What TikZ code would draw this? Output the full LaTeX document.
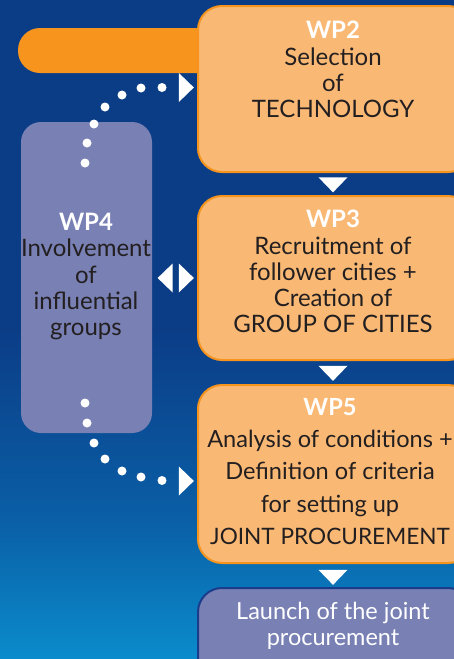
\documentclass[tikz,border=0pt]{standalone}
\usepackage{fontspec}
\setmainfont{Lato}
\usetikzlibrary{shapes.geometric,calc}
\definecolor{bgdark}{HTML}{0B3D87}
\definecolor{bgmid}{HTML}{0A5FA6}
\definecolor{bglight}{HTML}{0A8CCC}
\definecolor{orbar}{HTML}{F7941D}
\definecolor{orfill}{HTML}{F9B975}
\definecolor{purp}{HTML}{7880B4}
\definecolor{txt}{HTML}{231F20}
\definecolor{launchborder}{HTML}{1B3C8A}
\begin{document}
\begin{tikzpicture}[x=1pt,y=-1pt,
  wpbox/.style={draw=orbar, line width=2pt, fill=orfill, rounded corners=24pt, inner sep=0pt},
  wptext/.style={anchor=north, align=center, inner sep=0pt, text=txt, font=\fontsize{24}{26.3}\selectfont},
  tri/.style={isosceles triangle, isosceles triangle stretches=true, fill=white, inner sep=0pt, minimum height=15pt, minimum width=29pt},
  downtri/.style={tri, shape border rotate=270},
  righttri/.style={tri, shape border rotate=0},
  lefttri/.style={tri, shape border rotate=180},
  dot/.style={circle, fill=white, inner sep=0pt, minimum size=9pt},
  head/.style={text=white, font=\bfseries}
]
\useasboundingbox (0,0) rectangle (454,659);
\begin{scope}
\clip (0,0) rectangle (454,659);
% background
\fill[bgdark] (0,0) rectangle (454,660);
\shade[top color=bgdark, bottom color=bgmid] (0,330) rectangle (454,520);
\shade[top color=bgmid, bottom color=bglight] (0,519.5) rectangle (454,660);
% orange bar
\fill[orbar, rounded corners=22pt] (18,28) rectangle (240,73);
% boxes
\node[wpbox, minimum width=274pt, minimum height=166pt] (wp2) at (335,89) {};
\node[wpbox, minimum width=274pt, minimum height=164pt] (wp3) at (335,278) {};
\node[wpbox, minimum width=274pt, minimum height=178pt] (wp5) at (335,474) {};
\node[draw=launchborder, line width=2pt, fill=purp, rounded corners=24pt, minimum width=274pt, minimum height=110pt, inner sep=0pt] (launch) at (335,643) {};
\node[fill=purp, rounded corners=20pt, minimum width=131pt, minimum height=311pt, inner sep=0pt] (wp4) at (86.5,277.5) {};
% texts
\node[wptext] (wp2t) at (333,21) {{\color{white}\bfseries WP2}\\Selection\\of\\TECHNOLOGY};
\node[wptext] (wp3t) at (333,210) {{\color{white}\bfseries WP3}\\Recruitment of\\follower cities +\\Creation of\\GROUP OF CITIES};
\node[wptext, font=\fontsize{23.6}{32.3}\selectfont] (wp5t) at (330,398) {{\color{white}\bfseries WP5}\\Analysis of conditions +\\Definition of criteria\\for setting up\\{\fontsize{22.6}{32.3}\selectfont JOINT PROCUREMENT}};
\node[wptext] (wp4t) at (86,213) {{\color{white}\bfseries WP4}\\Involvement\\of\\influential\\groups};
\node[wptext, text=white, font=\fontsize{23.5}{25.5}\selectfont] (launcht) at (333,602) {Launch of the joint\\procurement};
% down arrows
\node[downtri] (a23) at (333,183.5) {};
\node[downtri] (a35) at (333,372) {};
\node[downtri] (a5l) at (333,576) {};
% side arrows
\node[righttri] (a42) at (185,87.5) {};
\node[lefttri] (a43l) at (166.5,278) {};
\node[righttri] (a43r) at (185,278) {};
\node[righttri] (a45) at (185,481) {};
% dotted connectors
\foreach \x/\y in {85/163,87/143,94/124,105/107,122/95,141/88,162/87.5}
  \node[dot] at (\x,\y) {};
\foreach \x/\y in {85/403,87/423,94/443,105/459,122/471,141/477,162/480.5}
  \node[dot] at (\x,\y) {};
\end{scope}
\end{tikzpicture}
\end{document}
